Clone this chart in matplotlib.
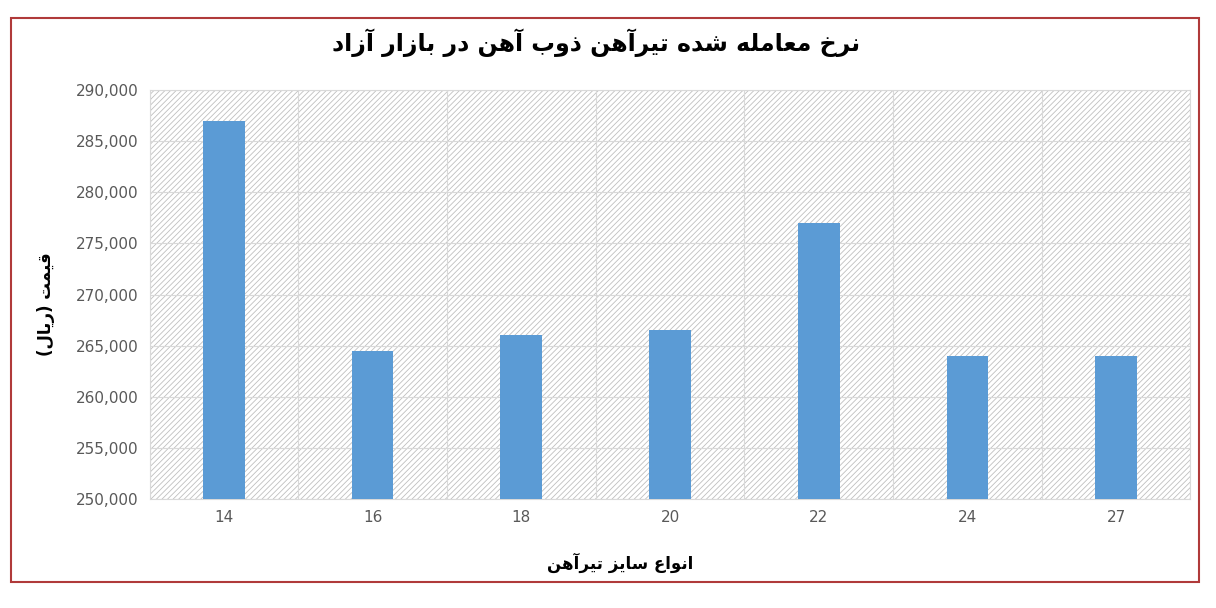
import matplotlib.pyplot as plt
from matplotlib.patches import Rectangle
from matplotlib.ticker import FuncFormatter

sizes = ["14", "16", "18", "20", "22", "24", "27"]
prices = [287000, 264500, 266000, 266500, 277000, 264000, 264000]

title = "نرخ معامله شده تیرآهن ذوب آهن در بازار آزاد"
x_label = "انواع سایز تیرآهن"
y_label = "قیمت (ریال)"

# minimal Arabic/Persian shaping: isolated, final, initial, medial
FORMS = {
    "ا": (0xFE8D, 0xFE8E, None, None), "آ": (0xFE81, 0xFE82, None, None),
    "ب": (0xFE8F, 0xFE90, 0xFE91, 0xFE92), "ت": (0xFE95, 0xFE96, 0xFE97, 0xFE98),
    "خ": (0xFEA5, 0xFEA6, 0xFEA7, 0xFEA8), "د": (0xFEA9, 0xFEAA, None, None),
    "ذ": (0xFEAB, 0xFEAC, None, None), "ر": (0xFEAD, 0xFEAE, None, None),
    "ز": (0xFEAF, 0xFEB0, None, None), "س": (0xFEB1, 0xFEB2, 0xFEB3, 0xFEB4),
    "ش": (0xFEB5, 0xFEB6, 0xFEB7, 0xFEB8), "ع": (0xFEC9, 0xFECA, 0xFECB, 0xFECC),
    "ق": (0xFED5, 0xFED6, 0xFED7, 0xFED8), "ل": (0xFEDD, 0xFEDE, 0xFEDF, 0xFEE0),
    "م": (0xFEE1, 0xFEE2, 0xFEE3, 0xFEE4), "ن": (0xFEE5, 0xFEE6, 0xFEE7, 0xFEE8),
    "ه": (0xFEE9, 0xFEEA, 0xFEEB, 0xFEEC), "و": (0xFEED, 0xFEEE, None, None),
    "ی": (0xFBFC, 0xFBFD, 0xFBFE, 0xFBFF), "ي": (0xFEF1, 0xFEF2, 0xFEF3, 0xFEF4),
}


def shape(s):
    out = []
    for i, c in enumerate(s):
        if c not in FORMS:
            out.append(c)
            continue
        prev = s[i - 1] if i > 0 else ""
        nxt = s[i + 1] if i + 1 < len(s) else ""
        join_prev = prev in FORMS and FORMS[prev][2] is not None
        join_next = nxt in FORMS and FORMS[c][2] is not None
        iso, fin, ini, med = FORMS[c]
        if join_prev and join_next:
            code = med
        elif join_prev:
            code = fin
        elif join_next:
            code = ini
        else:
            code = iso
        out.append(chr(code))
    vis = "".join(reversed(out))
    return vis.translate(str.maketrans("()", ")("))


plt.rcParams['font.family'] = ['DejaVu Sans']
plt.rcParams['hatch.color'] = '#bfbfbf'
plt.rcParams['hatch.linewidth'] = 0.6

fig = plt.figure(figsize=(12.16, 6.08), dpi=100)
fig.patches.append(Rectangle((0.009, 0.042), 0.977, 0.928, transform=fig.transFigure,
                             fill=False, edgecolor='#b03a3a', linewidth=1.5))
ax = fig.add_axes([0.123, 0.179, 0.856, 0.673])
ax.add_patch(Rectangle((0, 0), 1, 1, transform=ax.transAxes, facecolor='white',
                       hatch='//////', edgecolor='#bfbfbf', linewidth=0, zorder=0))

x = range(len(sizes))
ax.bar(x, [p - 250000 for p in prices], bottom=250000, width=0.28, color='#5b9bd5', zorder=3)
ax.set_xlim(-0.5, len(sizes) - 0.5)
ax.set_ylim(250000, 290000)
ax.set_yticks(range(250000, 290001, 5000))
ax.yaxis.set_major_formatter(FuncFormatter(lambda v, p: f"{int(v):,}"))
ax.set_xticks(list(x))
ax.set_xticklabels(sizes)
ax.set_xticks([i + 0.5 for i in range(-1, len(sizes))], minor=True)
ax.grid(True, which='minor', axis='x', color='#d9d9d9', linewidth=0.8)
ax.grid(True, which='major', axis='y', color='#d9d9d9', linewidth=0.8)
ax.set_axisbelow(True)
for sp in ax.spines.values():
    sp.set_color('#d9d9d9')
ax.tick_params(which='both', length=0, labelsize=11, colors='#595959', pad=8)

fig.text(0.49, 0.93, shape(title), ha='center', va='center', fontsize=17, fontweight='bold')
fig.text(0.51, 0.075, shape(x_label), ha='center', va='center', fontsize=12, fontweight='bold')
fig.text(0.038, 0.5, shape(y_label), ha='center', va='center', fontsize=12, fontweight='bold',
         rotation=90)

fig.savefig("out.png", dpi=100)
